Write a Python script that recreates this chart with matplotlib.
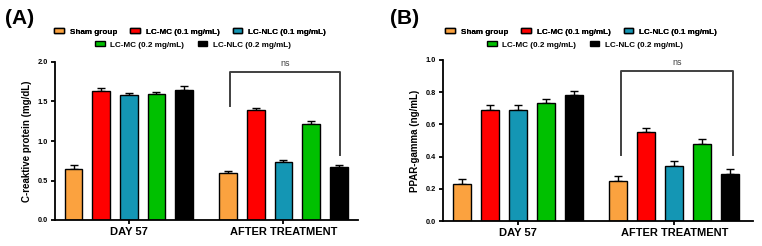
import matplotlib.pyplot as plt
import numpy as np

groups = ['DAY 57', 'AFTER TREATMENT']
series = ['Sham group', 'LC-MC (0.1 mg/mL)', 'LC-NLC (0.1 mg/mL)',
          'LC-MC (0.2 mg/mL)', 'LC-NLC (0.2 mg/mL)']
colors = ['#FBA23F', '#FF0000', '#1496B4', '#00C000', '#000000']

crp_day57 = [0.65, 1.63, 1.58, 1.59, 1.65]
crp_after = [0.59, 1.39, 0.73, 1.22, 0.67]
crp_err_day57 = [0.04, 0.04, 0.03, 0.03, 0.04]
crp_err_after = [0.03, 0.03, 0.03, 0.03, 0.03]

ppar_day57 = [0.23, 0.69, 0.69, 0.73, 0.78]
ppar_after = [0.25, 0.55, 0.34, 0.48, 0.29]
ppar_err_day57 = [0.03, 0.03, 0.03, 0.03, 0.03]
ppar_err_after = [0.03, 0.03, 0.03, 0.03, 0.03]

plt.rcParams['font.family'] = ['Liberation Sans', 'DejaVu Sans']
plt.rcParams['font.weight'] = 'bold'

fig = plt.figure(figsize=(7.62, 2.46), dpi=100)

pitch = 1.0
gap = 5.6
width = 0.64


def draw_panel(ax, day, after, err_day, err_after, ylim, yticks, ylabel,
               bracket, xlim):
    handles = []
    for g, (vals, errs) in enumerate([(day, err_day), (after, err_after)]):
        for i in range(5):
            x = g * gap + (i - 2) * pitch
            b = ax.bar(x, vals[i], width, color=colors[i], edgecolor='black',
                       linewidth=1.0, zorder=2)
            ax.errorbar(x, vals[i], yerr=[[0], [errs[i]]], fmt='none',
                        ecolor='black', elinewidth=1.0, capsize=3,
                        capthick=1.0, zorder=1)
            if g == 0:
                handles.append(b)
    ax.set_xlim(*xlim)
    ax.set_ylim(*ylim)
    ax.set_yticks(yticks)
    ax.set_yticklabels(['%.1f' % t for t in yticks], fontsize=5.3, weight='bold')
    ax.set_xticks([0, gap])
    ax.set_xticklabels(groups, fontsize=8, weight='bold')
    ax.set_ylabel(ylabel, fontsize=7, weight='bold', labelpad=4)
    for s in ['top', 'right']:
        ax.spines[s].set_visible(False)
    for s in ['left', 'bottom']:
        ax.spines[s].set_linewidth(1.3)
    ax.tick_params(axis='both', width=1.3, length=3, pad=2)
    # bracket
    xl, xr, ytop, yl, yr = bracket
    ax.plot([xl, xl, xr, xr], [yl, ytop, ytop, yr], color='#404040',
            linewidth=1.4, clip_on=False)
    ax.text((xl + xr) / 2, ytop + (ylim[1] - ylim[0]) * 0.025, 'ns',
            ha='center', va='bottom', fontsize=6.5, weight='normal',
            color='#404040')
    return handles


axA = fig.add_axes([55 / 762, 1 - 220 / 246, (358 - 55) / 762, (220 - 62) / 246])
hA = draw_panel(axA, crp_day57, crp_after, crp_err_day57, crp_err_after,
                (0, 2.0), [0.0, 0.5, 1.0, 1.5, 2.0],
                'C-reaktive protein (mg/dL)',
                (3.65, 7.65, 1.87, 1.44, 0.82), (-2.67, 8.3))

axB = fig.add_axes([443 / 762, 1 - 221 / 246, (753 - 443) / 762, (221 - 60) / 246])
hB = draw_panel(axB, ppar_day57, ppar_after, ppar_err_day57, ppar_err_after,
                (0, 1.0), [0.0, 0.2, 0.4, 0.6, 0.8, 1.0],
                'PPAR-gamma (ng/mL)',
                (3.71, 7.71, 0.93, 0.41, 0.41), (-2.68, 8.42))

for h, c1, c2 in [(hA, 190, 193), (hB, 581, 585)]:
    leg1 = fig.legend(h[:3], series[:3], ncol=3, loc='center',
                      bbox_to_anchor=(c1 / 762, 1 - 32 / 246), frameon=False,
                      prop={'size': 5.9, 'weight': 'bold'}, handlelength=1.2,
                      handleheight=0.45, columnspacing=1.6, handletextpad=0.7,
                      borderpad=0)
    leg2 = fig.legend(h[3:], series[3:], ncol=2, loc='center',
                      bbox_to_anchor=(c2 / 762, 1 - 45 / 246), frameon=False,
                      prop={'size': 5.9, 'weight': 'bold'}, handlelength=1.2,
                      handleheight=0.45, columnspacing=1.6, handletextpad=0.7,
                      borderpad=0)
    fig.add_artist(leg1)

fig.text(5 / 762, 1 - 19 / 246, '(A)', fontsize=15, weight='bold', va='center')
fig.text(390 / 762, 1 - 19 / 246, '(B)', fontsize=15, weight='bold', va='center')

fig.savefig('out.png', dpi=100)
